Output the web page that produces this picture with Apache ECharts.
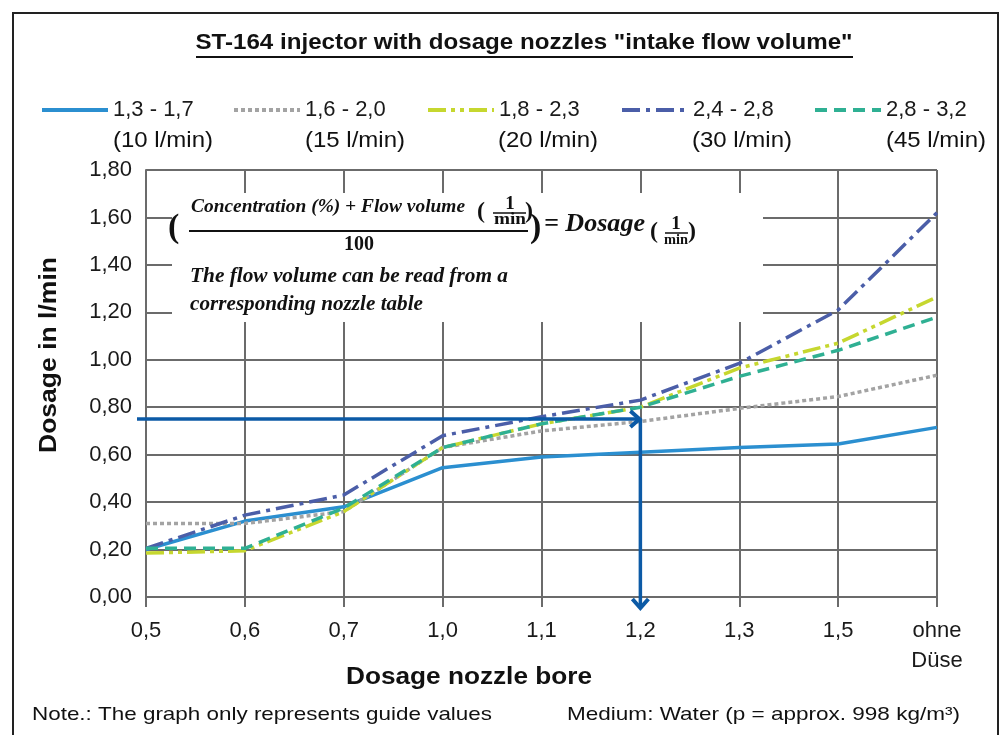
<!DOCTYPE html>
<html>
<head>
<meta charset="utf-8">
<script src="https://cdn.jsdelivr.net/npm/echarts@6/dist/echarts.min.js"></script>
<style>
html,body{margin:0;padding:0;background:#fff;}
#main{width:1004px;height:735px;}
</style>
</head>
<body>
<div id="main"></div>
<script>
// nozzle bores (x categories)
var bores = ['0,5', '0,6', '0,7', '1,0', '1,1', '1,2', '1,3', '1,5', 'ohne\nDüse'];
// series names + flow volumes (second legend row)
var names = ['1,3 - 1,7', '1,6 - 2,0', '1,8 - 2,3', '2,4 - 2,8', '2,8 - 3,2'];
var flows = ['(10 l/min)', '(15 l/min)', '(20 l/min)', '(30 l/min)', '(45 l/min)'];
// dosage in l/min
var d1317 = [0.20, 0.32, 0.38, 0.545, 0.59, 0.61, 0.63, 0.645, 0.715];
var d1620 = [0.31, 0.31, 0.36, 0.63, 0.70, 0.74, 0.795, 0.845, 0.935];
var d1823 = [0.185, 0.195, 0.36, 0.63, 0.73, 0.80, 0.965, 1.07, 1.265];
var d2428 = [0.205, 0.345, 0.43, 0.68, 0.76, 0.83, 0.985, 1.21, 1.62];
var d2832 = [0.205, 0.205, 0.375, 0.63, 0.73, 0.80, 0.93, 1.04, 1.18];
// y ticks
var yMin = 0, yMax = 1.8, yStep = 0.2;
// reading example (arrow)
var readBore = '1,2', readDosage = 0.75;

var colors = ['#2b8fd0', '#a3a3a3', '#c6d72f', '#4b5ea8', '#2fb093'];
var dashes = ['solid', [4, 3], [18, 5, 4, 5, 4, 5], [18, 6, 4, 6], [12, 7]];
var allData = [d1317, d1620, d1823, d2428, d2832];

var sans = 'Liberation Sans';
var serif = 'Liberation Serif';
var gridCol = '#6b6b6b';
var arrowCol = '#0c5aa6';

var chart = echarts.init(document.getElementById('main'));

var series = [];
for (var i = 0; i < names.length; i++) {
  series.push({
    name: names[i],
    type: 'line',
    data: allData[i],
    symbol: 'none',
    z: 3,
    lineStyle: {color: colors[i], width: 3.5, type: dashes[i]},
    itemStyle: {color: colors[i]}
  });
}

var legendLeft = [40, 232, 426, 620, 813];
var legends = [];
for (i = 0; i < names.length; i++) {
  legends.push({
    left: legendLeft[i], top: 99, padding: 0,
    itemWidth: 66, itemHeight: 20,
    data: [names[i]],
    selectedMode: false,
    lineStyle: {width: 4},
    itemStyle: {opacity: 0},
    textStyle: {fontFamily: sans, fontSize: 22, color: '#1a1a1a'}
  });
}

chart.setOption({
  animation: false,
  legend: legends,
  grid: {left: 146, right: 67, top: 170, bottom: 138, outerBoundsMode: 'none'},
  xAxis: {
    type: 'category',
    data: bores,
    boundaryGap: false,
    axisLine: {lineStyle: {color: gridCol, width: 2}},
    axisTick: {show: true, length: 10, lineStyle: {color: gridCol, width: 2}},
    splitLine: {show: true, lineStyle: {color: gridCol, width: 2}},
    axisLabel: {fontFamily: sans, fontSize: 22, color: '#1a1a1a', margin: 19, lineHeight: 30, interval: 0}
  },
  yAxis: {
    type: 'value',
    min: yMin, max: yMax, interval: yStep,
    axisLine: {show: true, lineStyle: {color: gridCol, width: 2}},
    axisTick: {show: false},
    splitLine: {show: true, lineStyle: {color: gridCol, width: 2}},
    axisLabel: {
      fontFamily: sans, fontSize: 22, color: '#1a1a1a', margin: 14,
      formatter: function (v) { return v.toFixed(2).replace('.', ','); }
    }
  },
  series: series
});

// text helper: stretch text horizontally to the width it has in the picture
var ctx = document.createElement('canvas').getContext('2d');
function txt(str, x, y, font, width, align, rot) {
  ctx.font = font;
  var w = ctx.measureText(str).width;
  return {
    type: 'text', x: x, y: y, z: 10,
    rotation: rot || 0,
    scaleX: width ? width / w : 1,
    style: {text: str, font: font, fill: '#111', textAlign: align || 'left', textVerticalAlign: 'middle'}
  };
}
function seg(pts, w, col) {
  return {type: 'polyline', z: 10, shape: {points: pts}, style: {stroke: col || '#111', lineWidth: w, fill: null}};
}

var g = [];
// outer frame
g.push({type: 'rect', z: 10, shape: {x: 13, y: 13, width: 985, height: 740}, style: {fill: null, stroke: '#222', lineWidth: 2}});
// title + underline
g.push(txt('ST-164 injector with dosage nozzles "intake flow volume"', 524, 43, 'bold 22px ' + sans, 657, 'center'));
g.push(seg([[196, 57], [853, 57]], 2));
// legend second row
var flowX = [113, 305, 498, 692, 886];
for (i = 0; i < flows.length; i++) {
  g.push(txt(flows[i], flowX[i], 141, '22px ' + sans, 100, 'left'));
}
// axis names
g.push(txt('Dosage in l/min', 49, 355, 'bold 24px ' + sans, 196, 'center', Math.PI / 2));
g.push(txt('Dosage nozzle bore', 469, 677, 'bold 24px ' + sans, 246, 'center'));
// notes
g.push(txt('Note.: The graph only represents guide values', 32, 715, '19px ' + sans, 460, 'left'));
g.push(txt('Medium: Water (p = approx. 998 kg/m\u00b3)', 567, 715, '19px ' + sans, 393, 'left'));

// formula box
g.push({type: 'rect', z: 1, shape: {x: 172, y: 193, width: 591, height: 129}, style: {fill: '#fff'}});
var bi = 'italic bold ';
g.push(txt('(', 168, 228, 'bold 34px ' + serif, 0, 'left'));
g.push(txt('Concentration (%) + Flow volume', 191, 207, bi + '19px ' + serif, 274, 'left'));
g.push(txt('(', 477, 212, 'bold 24px ' + serif, 0, 'left'));
g.push(txt('1', 510, 204, 'bold 19px ' + serif, 0, 'center'));
g.push(seg([[493, 213], [526, 213]], 1.5));
g.push(txt('min', 510, 220, 'bold 17px ' + serif, 32, 'center'));
g.push(txt(')', 525, 212, 'bold 24px ' + serif, 0, 'left'));
g.push(seg([[189, 231], [528, 231]], 2));
g.push(txt('100', 359, 245, 'bold 20px ' + serif, 30, 'center'));
g.push(txt(')', 530, 228, 'bold 34px ' + serif, 0, 'left'));
g.push(txt('= Dosage', 544, 225, bi + '25px ' + serif, 101, 'left'));
g.push(txt('(', 650, 232, 'bold 24px ' + serif, 0, 'left'));
g.push(txt('1', 676, 224, 'bold 19px ' + serif, 0, 'center'));
g.push(seg([[665, 233], [688, 233]], 1.5));
g.push(txt('min', 676, 240, 'bold 15px ' + serif, 24, 'center'));
g.push(txt(')', 688, 232, 'bold 24px ' + serif, 0, 'left'));
g.push(txt('The flow volume can be read from a', 190, 277, bi + '20px ' + serif, 318, 'left'));
g.push(txt('corresponding nozzle table', 190, 305, bi + '20px ' + serif, 233, 'left'));

// reading arrows, placed through the axes
var p = chart.convertToPixel({xAxisIndex: 0, yAxisIndex: 0}, [readBore, readDosage]);
var p0 = chart.convertToPixel({xAxisIndex: 0, yAxisIndex: 0}, [readBore, yMin]);
var xs = chart.convertToPixel({xAxisIndex: 0, yAxisIndex: 0}, [bores[0], readDosage]);
g.push(seg([[xs[0] - 9, p[1]], [p[0] - 2, p[1]]], 3.5, arrowCol));
g.push(seg([[p[0] - 10, p[1] - 8], [p[0] - 1, p[1]], [p[0] - 10, p[1] + 8]], 4, arrowCol));
g.push(seg([[p[0], p[1]], [p[0], p0[1] + 11]], 3.5, arrowCol));
g.push(seg([[p[0] - 8, p0[1] + 2], [p[0], p0[1] + 11], [p[0] + 8, p0[1] + 2]], 4, arrowCol));

chart.setOption({graphic: g});
</script>
</body>
</html>
